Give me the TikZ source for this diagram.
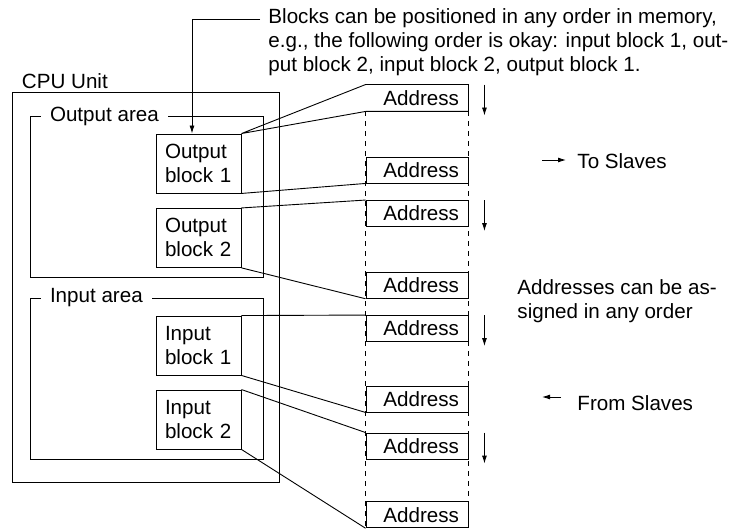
\documentclass[tikz,border=0pt]{standalone}
\usepackage{fontspec}
\setmainfont{Liberation Sans}
\usetikzlibrary{arrows.meta, positioning, calc}

\begin{document}
\begin{tikzpicture}[x=1pt, y=-1pt, line width=0.9pt,
    font=\fontsize{20.6}{24}\selectfont,
    area/.style={draw, inner sep=0pt},
    arealabel/.style={fill=white, anchor=west, inner xsep=9pt, inner ysep=1pt},
    block/.style={draw, minimum width=85pt, minimum height=59pt, text width=67pt, inner xsep=9pt, inner ysep=0pt, align=left},
    addr/.style={minimum height=26pt, text width=84pt, inner xsep=9pt, inner ysep=0pt, align=right},
    note/.style={anchor=base west, inner sep=0pt, align=left},
    arrow/.style={-{Latex[length=8pt, width=5pt]}}
]
    \useasboundingbox (0,0) rectangle (743,529);

    % CPU Unit with its two areas
    \node[area, minimum width=266.3pt, minimum height=389.3pt] (cpu) at (145.85,287.35) {};
    \node[note] (cpulbl) at (21.5,88.3) {CPU Unit};
    \node[area, minimum width=233pt, minimum height=161pt] (outarea) at (146.5,197.2) {};
    \node[area, minimum width=233pt, minimum height=161pt] (inarea) at (146.5,378.8) {};
    \node[arealabel] (outlbl) at ($(outarea.north west)+(11,0)$) {Output area};
    \node[arealabel] (inlbl) at ($(inarea.north west)+(11,0)$) {Input area};

    \node[block] (ob1) at (198.5,163.5) {Output\\block 1};
    \node[block] (ob2) at (198.5,237.9) {Output\\block 2};
    \node[block] (ib1) at (198.5,345.5) {Input\\block 1};
    \node[block] (ib2) at (198.5,419.5) {Input\\block 2};

    % memory column
    \node[addr] (addr1) at (417,98) {Address};
    \foreach \n/\y in {2/170, 3/213.5, 4/285.3, 5/328.5, 6/399, 7/446, 8/514.8}
        \node[addr, draw] (addr\n) at (417,\y) {Address};
    \draw[dash pattern=on 5pt off 5pt] (addr1.south west) -- (addr8.south west);
    \draw[dash pattern=on 5pt off 5pt] (addr1.south east) -- (addr8.south east);
    \foreach \n in {1,3,5,7}
        \draw[arrow] ($(addr\n.north east)+(16,0)$) -- ++(0,31);

    % blocks to addresses
    \draw (ob1.north east) -- (addr1.north west) -- (addr1.north east) -- (addr1.south east) -- (addr1.south west) -- (ob1.north east);
    \draw (ob1.south east) -- (addr2.south west);
    \draw (ob2.north east) -- (addr3.north west);
    \draw (ob2.south east) -- (addr4.south west);
    \draw (ib1.north east) -- (addr5.north west);
    \draw (ib1.south east) -- (addr6.south west);
    \draw (ib2.north east) -- (addr7.north west);
    \draw (ib2.south east) -- (addr8.south west);

    % notes
    \node[note] (order) at (268,72) {Blocks can be positioned in any order in memory,\\e.g., the following order is okay: input block 1, out-\\put block 2, input block 2, output block 1.};
    \coordinate (lead) at (260,19);
    \coordinate (corner) at (192,19);
    \draw[arrow] (lead) -- (corner) -- (corner |- ob1.north);

    \node[note] (toslv) at (577,169) {To Slaves};
    \draw[arrow] (542,160) -- ($(toslv.base west)+(-11,-9)$);
    \node[note] (assign) at (517,318) {Addresses can be as-\\signed in any order};
    \node[note] (fromslv) at (577,410) {From Slaves};
    \draw[arrow] (561,397) -- ($(fromslv.base west)+(-35,-13)$);
\end{tikzpicture}
\end{document}
